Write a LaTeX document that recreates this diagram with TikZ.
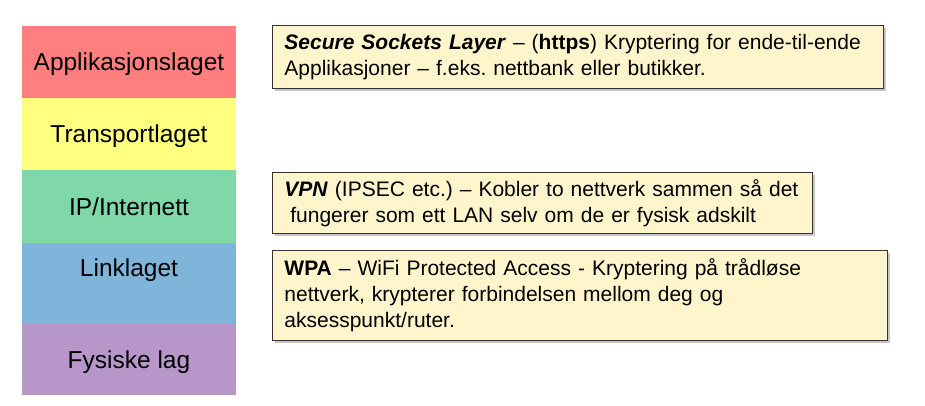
\documentclass[tikz,border=0pt]{standalone}
\usepackage{fontspec}
\setmainfont{Liberation Sans}
\usetikzlibrary{shadows}
\definecolor{appred}{HTML}{FF7F7F}
\definecolor{transyellow}{HTML}{FFFF80}
\definecolor{ipgreen}{HTML}{80D8A8}
\definecolor{linkblue}{HTML}{7FB5DB}
\definecolor{physpurple}{HTML}{B797CA}
\definecolor{notefill}{HTML}{FFF5CC}
\frenchspacing
\begin{document}
\begin{tikzpicture}[
  x=1pt, y=-1pt,
  lag/.style = {minimum width=214pt, inner sep=0pt, text depth=0pt,
    font=\fontsize{24.5}{28}\selectfont},
  merknad/.style = {draw=black!80, line width=0.9pt, fill=notefill,
    anchor=north west, inner xsep=12pt, inner ysep=0pt,
    align=left, font=\fontsize{21}{26}\selectfont,
    drop shadow={shadow xshift=3pt, shadow yshift=-3pt, opacity=0.45}}
]
  \useasboundingbox (0,0) rectangle (925,405);
  % lagene
  \node[lag, fill=appred, minimum height=72pt] (app) at (129,62) {Applikasjonslaget};
  \node[lag, fill=transyellow, minimum height=72pt] (trans) at (129,134) {Transportlaget};
  \node[lag, fill=ipgreen, minimum height=73pt] (ip) at (129,206.5) {IP/Internett};
  \node[lag, fill=linkblue, minimum height=81pt] (link) at (129,283.5) {};
  \node[lag] (linktxt) at (129,268) {Linklaget};
  \node[lag, fill=physpurple, minimum height=71pt] (fys) at (129,359.5) {Fysiske lag};
  % merknader
  \node[merknad, minimum width=611pt, minimum height=63pt, text width=587pt]
    (ssl) at (272,25)
    {\textbf{\textit{Secure Sockets Layer}} -- (\textbf{https}) Kryptering for ende-til-ende\\
     Applikasjoner -- f.eks. nettbank eller butikker.};
  \node[merknad, minimum width=540pt, minimum height=61pt, text width=516pt]
    (vpn) at (272,172)
    {\textbf{\textit{VPN}} (IPSEC etc.) -- Kobler to nettverk sammen så det\\
     \hspace*{0.28em}fungerer som ett LAN selv om de er fysisk adskilt};
  \node[merknad, minimum width=615pt, minimum height=90pt, text width=591pt]
    (wpa) at (272,250)
    {\textbf{WPA} -- WiFi Protected Access - Kryptering på trådløse\\
     nettverk, krypterer forbindelsen mellom deg og\\
     aksesspunkt/ruter.};
\end{tikzpicture}
\end{document}
